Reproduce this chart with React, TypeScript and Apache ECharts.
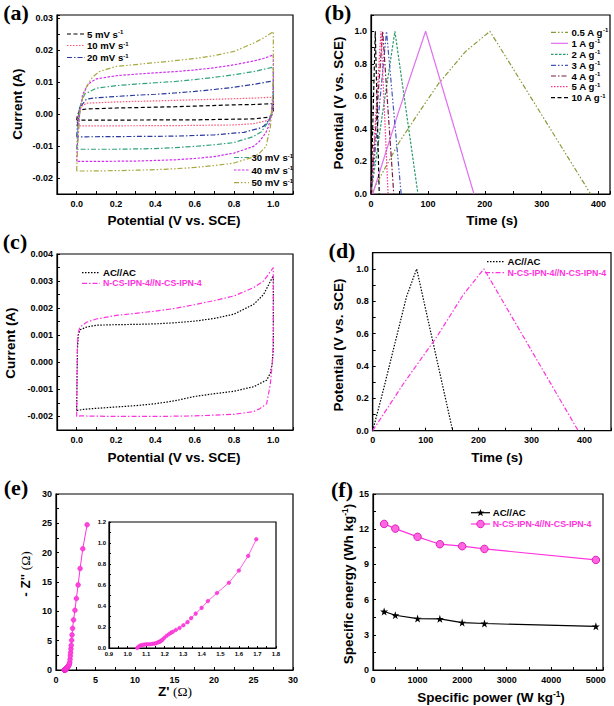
import React, { useEffect, useRef } from 'react';
import * as echarts from 'echarts';

// ---------- (a) three-electrode CV loops [V, A] ----------
const cv5 = [[0,-0.0019],[0.005,0.0],[0.02,0.0013],[0.05,0.0016],[0.2,0.0019],[0.5,0.0023],[0.8,0.0029],[0.9,0.003],[1.0,0.0033],[1.0,0.001],[0.99,-0.0005],[0.97,-0.001],[0.9,-0.0015],[0.6,-0.0018],[0.05,-0.0019],[0,-0.0019]];
const cv10 = [[0,-0.0037],[0.005,-0.001],[0.015,0.002],[0.05,0.0034],[0.2,0.0038],[0.5,0.0043],[0.8,0.0048],[0.9,0.005],[1.0,0.0053],[1.0,0.002],[0.99,-0.001],[0.97,-0.002],[0.9,-0.003],[0.8,-0.0034],[0.5,-0.0036],[0.05,-0.0037],[0,-0.0037]];
const cv20 = [[0,-0.0071],[0.005,-0.003],[0.015,0.002],[0.05,0.0047],[0.1,0.0051],[0.2,0.0055],[0.3,0.0059],[0.4,0.0062],[0.5,0.0066],[0.6,0.0071],[0.7,0.0077],[0.8,0.0084],[0.9,0.0093],[1.0,0.0104],[1.0,0.004],[0.99,0.0],[0.98,-0.0018],[0.95,-0.0038],[0.93,-0.0044],[0.85,-0.0057],[0.7,-0.0065],[0.5,-0.0069],[0.3,-0.007],[0.05,-0.0071],[0,-0.0071]];
const cv30 = [[0,-0.011],[0.005,-0.005],[0.015,0.002],[0.04,0.0062],[0.1,0.0081],[0.2,0.0089],[0.3,0.0094],[0.4,0.0098],[0.5,0.0102],[0.6,0.0108],[0.7,0.0115],[0.8,0.0123],[0.9,0.0133],[1.0,0.0147],[1.0,0.006],[0.99,0.0],[0.97,-0.0028],[0.94,-0.0055],[0.9,-0.007],[0.8,-0.0089],[0.7,-0.0096],[0.6,-0.0101],[0.5,-0.0105],[0.4,-0.0108],[0.2,-0.011],[0.05,-0.011],[0,-0.011]];
const cv40 = [[0,-0.0148],[0.005,-0.008],[0.015,0.0],[0.03,0.006],[0.06,0.0095],[0.1,0.011],[0.2,0.012],[0.3,0.0125],[0.4,0.0129],[0.5,0.0133],[0.6,0.0138],[0.7,0.0145],[0.8,0.0154],[0.9,0.0166],[0.95,0.0174],[1.0,0.0185],[1.0,0.008],[0.99,0.0],[0.975,-0.004],[0.96,-0.006],[0.93,-0.0085],[0.9,-0.0101],[0.8,-0.0122],[0.7,-0.0133],[0.6,-0.0139],[0.5,-0.0143],[0.4,-0.0145],[0.3,-0.0147],[0.1,-0.0148],[0,-0.0148]];
const cv50 = [[0,-0.0178],[0.005,-0.01],[0.015,0.0],[0.03,0.005],[0.05,0.0086],[0.08,0.0115],[0.115,0.0133],[0.2,0.0149],[0.3,0.0155],[0.4,0.0161],[0.5,0.0167],[0.6,0.0174],[0.7,0.0183],[0.8,0.0196],[0.9,0.0222],[0.95,0.0238],[1.0,0.0258],[1.0,0.012],[0.995,0.004],[0.985,-0.004],[0.963,-0.0101],[0.93,-0.0122],[0.9,-0.0134],[0.8,-0.0153],[0.7,-0.0161],[0.6,-0.0167],[0.5,-0.0171],[0.4,-0.0174],[0.2,-0.0177],[0.05,-0.0178],[0,-0.0178]];
const aNames = ['5 mV s', '10 mV s', '20 mV s', '30 mV s', '40 mV s', '50 mV s'];

// ---------- (b) GCD curves [s, V] ----------
const gcd05 = [[0,0],[14,0.09],[49,0.315],[84,0.5],[119,0.68],[166,0.875],[209,1.0],[386,0]];
const gcd1 = [[3,0],[48,0.5],[96,1.0],[181,0]];
const gcd2 = [[0,0],[20,0.49],[42,1.0],[82.5,0]];
const gcd3 = [[0,0],[27.3,1.0],[53,0]];
const gcd4 = [[0,0],[20.5,1.0],[40,0]];
const gcd5 = [[0,0],[17.5,1.0],[30,0]];
const gcd10 = [[0,0],[7.5,1.0],[14.5,0]];
const bNames = ['0.5 A g', '1 A g', '2 A g', '3 A g', '4 A g', '5 A g', '10 A g'];

// ---------- (c) two-electrode CV [V, A] ----------
const cvAC = [[0,-0.00178],[0.002,-0.0005],[0.004,0.0005],[0.008,0.001],[0.017,0.0012],[0.05,0.0013],[0.1,0.00137],[0.2,0.00139],[0.3,0.0014],[0.4,0.00142],[0.5,0.00146],[0.6,0.00152],[0.7,0.00162],[0.8,0.00178],[0.9,0.00214],[0.95,0.0025],[1.0,0.0032],[1.0,0.0005],[0.995,0.0],[0.985,-0.0004],[0.966,-0.00066],[0.9,-0.0009],[0.8,-0.00107],[0.7,-0.00116],[0.6,-0.00126],[0.5,-0.00142],[0.4,-0.00153],[0.3,-0.0016],[0.2,-0.00165],[0.1,-0.0017],[0.034,-0.00174],[0,-0.00178]];
const cvNCS = [[0,-0.002],[0.002,-0.0005],[0.004,0.0007],[0.008,0.0011],[0.017,0.0013],[0.05,0.00148],[0.1,0.0016],[0.2,0.00173],[0.3,0.00181],[0.4,0.00189],[0.5,0.00199],[0.6,0.00213],[0.7,0.00228],[0.8,0.00245],[0.9,0.00276],[0.95,0.003],[1.0,0.0035],[1.0,0.001],[0.995,0.0],[0.985,-0.0008],[0.966,-0.00153],[0.93,-0.00172],[0.9,-0.00182],[0.8,-0.00192],[0.6,-0.00198],[0.4,-0.002],[0.2,-0.002],[0.02,-0.00198],[0,-0.002]];

// ---------- (d) two-electrode GCD [s, V] ----------
const gcdAC = [[0,0],[20,0.25],[45,0.58],[64,0.83],[83,1.0],[151,0]];
const gcdNCS = [[0,0],[58,0.29],[121,0.58],[171,0.84],[210,1.0],[388,0]];

// ---------- (e) Nyquist ----------
const zRe = [1.052,1.057,1.065,1.072,1.081,1.09,1.101,1.112,1.122,1.133,1.144,1.153,1.162,1.169,1.175,1.182,1.188,1.198,1.211,1.224,1.235,1.244,1.26,1.28,1.301,1.323,1.343,1.367,1.399,1.433,1.482,1.546,1.6,1.65,1.694,1.74,1.78,1.82,1.85,1.89,1.93,1.98,2.03,2.1,2.22,2.4,2.58,2.8,3.05,3.39,3.94];
const zIm = [0,0.01,0.019,0.026,0.029,0.032,0.036,0.036,0.036,0.039,0.042,0.045,0.052,0.058,0.061,0.071,0.078,0.097,0.117,0.133,0.146,0.155,0.172,0.191,0.217,0.246,0.285,0.327,0.382,0.447,0.524,0.621,0.738,0.877,1.036,1.3,1.8,2.4,2.96,3.6,4.2,5.07,5.98,7.1,8.54,10.19,12.18,14.5,17.3,20.66,24.76];

// ---------- (f) Ragone ----------
const fPower = [250, 500, 1000, 1500, 2000, 2500, 5000];
const fEnergyAC = [4.98, 4.67, 4.38, 4.36, 4.04, 3.96, 3.72];
const fEnergyNCS = [12.45, 12.05, 11.35, 10.72, 10.55, 10.32, 9.38];

const F = 'Liberation Sans';
const SERIF = 'Liberation Serif';
const MAG = '#ff33dd';
const STAR = 'path://M50,0L61.8,35.3L98.9,35.3L68.9,57.1L80.3,92.4L50,70.6L19.7,92.4L31.1,57.1L1.1,35.3L38.2,35.3Z';

const DASH = [4, 2.5];
const DOT = [1.5, 1.5];
const SDASH = [2.5, 1.5];
const DD = [5, 2, 1.5, 2];
const DDD = [5, 2, 1.5, 2, 1.5, 2];

function fmt(base: number, step: number, dec: number) {
  return (v: number) => {
    const k = Math.round(v / base);
    if (Math.abs(v - k * base) > base * 1e-6) return '';
    if (k % step !== 0) return '';
    const r = (k * base).toFixed(dec);
    return r === '-0.00' || r === '-0.000' || r === '-0.0' ? r.slice(1) : r;
  };
}

function axis(gridIndex: number, min: number, max: number, interval: number, step: number, dec: number, fs = 9, margin = 4, tick = 3) {
  return {
    type: 'value', gridIndex, min, max, interval,
    axisLine: { show: true, onZero: false, lineStyle: { color: '#000', width: 1.2 } },
    axisTick: { show: true, inside: true, length: tick, lineStyle: { color: '#000', width: 1 } },
    axisLabel: { formatter: fmt(interval, step, dec), fontSize: fs, fontWeight: 'bold', color: '#000', fontFamily: F, margin },
    splitLine: { show: false },
  };
}

function line(name: string, data: number[][], xi: number, color: string, dash: any, width = 1.2) {
  return {
    type: 'line', name, data, xAxisIndex: xi, yAxisIndex: xi, showSymbol: false, symbol: 'none',
    lineStyle: { color, width, type: dash }, itemStyle: { color }, silent: true, z: 3,
  };
}

function rich(fs: number, color: string) {
  return {
    n: { fontSize: fs, fontWeight: 'bold', fontFamily: F, fill: color, color },
    s: { fontSize: fs * 0.62, fontWeight: 'bold', fontFamily: F, fill: color, color, verticalAlign: 'top' },
    o: { fontSize: fs, fontWeight: 'normal', fontFamily: SERIF, fill: color, color },
  };
}

function txt(x: number, y: number, text: string, fs: number, color = '#000', align = 'left', rot = 0) {
  return {
    type: 'text', x, y, rotation: rot, silent: true, z: 10,
    style: {
      text, rich: rich(fs, color), fontSize: fs, fontWeight: 'bold', fontFamily: F, fill: color,
      textAlign: align, align, textVerticalAlign: 'middle', verticalAlign: 'middle',
    },
  };
}

function letter(x: number, y: number, t: string) {
  return {
    type: 'text', x, y, silent: true, z: 10,
    style: { text: t, fontSize: 22, fontWeight: 'bold', fontFamily: SERIF, fill: '#000', textAlign: 'center', align: 'center', textVerticalAlign: 'middle', verticalAlign: 'middle' },
  };
}

function legLine(x1: number, x2: number, y: number, color: string, dash: any) {
  return { type: 'line', silent: true, z: 10, shape: { x1, y1: y, x2, y2: y }, style: { stroke: color, lineWidth: 1.2, lineDash: dash } };
}

function starPts(cx: number, cy: number, r: number) {
  const pts: number[][] = [];
  for (let i = 0; i < 10; i++) {
    const rr = i % 2 === 0 ? r : r * 0.4;
    const a = -Math.PI / 2 + (i * Math.PI) / 5;
    pts.push([cx + rr * Math.cos(a), cy + rr * Math.sin(a)]);
  }
  return pts;
}

const sup = (main: string, s = '-1', tail = '') => `{n|${main}}{s|${s}}` + (tail ? `{n|${tail}}` : '');

export default function App() {
  const ref = useRef<HTMLDivElement>(null);
  useEffect(() => {
    if (!ref.current) return;
    const chart = echarts.init(ref.current, undefined, { renderer: 'svg' });
    const grid = (left: number, top: number, width: number, height: number) => ({
      left, top, width, height, show: true, borderColor: '#000', borderWidth: 1.2, backgroundColor: '#fff', containLabel: false,
    });
    const grids = [
      grid(57, 15, 236, 179),
      grid(371, 15, 239, 179),
      grid(57, 254, 236, 176),
      grid(372.7, 252.7, 239.6, 178),
      grid(56, 494, 237, 176),
      grid(109, 522, 167, 126),
      grid(373, 494, 230, 176),
    ];
    const xAxes = [
      axis(0, -0.1, 1.1, 0.1, 2, 1, 9, 5),
      axis(1, 0, 420, 50, 2, 0, 9, 5),
      axis(2, -0.1, 1.1, 0.1, 2, 1, 9, 5),
      axis(3, 0, 450, 50, 2, 0, 9, 5),
      axis(4, 0, 30, 2.5, 2, 0, 9, 5),
      axis(5, 0.9, 1.8, 0.05, 2, 1, 6, 3, 2),
      axis(6, 0, 5160, 500, 2, 0, 9, 5),
    ];
    const yAxes = [
      axis(0, -0.025, 0.031, 0.005, 2, 2),
      axis(1, 0, 1.1, 0.1, 2, 1),
      axis(2, -0.0025, 0.004, 0.0005, 2, 3),
      axis(3, 0, 1.1, 0.1, 2, 1),
      axis(4, 0, 30, 2.5, 2, 0),
      axis(5, 0, 1.2, 0.1, 2, 1, 6, 3, 2),
      axis(6, 0, 15, 1.5, 2, 0),
    ];
    const zPairs = zRe.map((x, i) => [x, zIm[i]]);
    const inset = zPairs.filter((p) => p[0] <= 1.7);
    const series: any[] = [
      line(aNames[0], cv5, 0, '#000000', DASH),
      line(aNames[1], cv10, 0, '#ff5577', DOT),
      line(aNames[2], cv20, 0, '#2a3aa0', DD),
      line(aNames[3], cv30, 0, '#2fa37a', DD),
      line(aNames[4], cv40, 0, '#d030f0', SDASH),
      line(aNames[5], cv50, 0, '#a8a840', DDD),
      line(bNames[0], gcd05, 1, '#8a9a3a', DDD),
      line(bNames[1], gcd1, 1, '#e070f0', 'solid'),
      line(bNames[2], gcd2, 1, '#2a9a6a', SDASH),
      line(bNames[3], gcd3, 1, '#4455bb', DDD),
      line(bNames[4], gcd4, 1, '#7a1a40', DD),
      line(bNames[5], gcd5, 1, '#ff3388', DOT),
      line(bNames[6], gcd10, 1, '#000000', DASH),
      line('AC//AC', cvAC, 2, '#000000', DOT),
      line('N-CS-IPN-4//N-CS-IPN-4', cvNCS, 2, MAG, DD),
      line('AC//AC', gcdAC, 3, '#000000', DOT),
      line('N-CS-IPN-4//N-CS-IPN-4', gcdNCS, 3, MAG, DD),
      {
        type: 'line', data: zPairs, xAxisIndex: 4, yAxisIndex: 4, symbol: 'circle', symbolSize: 4.8, silent: true,
        lineStyle: { color: MAG, width: 1 }, itemStyle: { color: '#ff44dd', borderColor: '#ee22cc', borderWidth: 0.5 },
      },
      {
        type: 'line', data: inset, xAxisIndex: 5, yAxisIndex: 5, symbol: 'circle', symbolSize: 3.6, silent: true, z: 5,
        lineStyle: { color: MAG, width: 0.8 }, itemStyle: { color: '#ff44dd', borderColor: '#ee22cc', borderWidth: 0.5 },
      },
      {
        type: 'line', name: 'AC//AC', data: fPower.map((x, i) => [x, fEnergyAC[i]]), xAxisIndex: 6, yAxisIndex: 6,
        symbol: STAR, symbolSize: 8, silent: true, lineStyle: { color: '#000', width: 1.1 }, itemStyle: { color: '#000' },
      },
      {
        type: 'line', name: 'N-CS-IPN-4//N-CS-IPN-4', data: fPower.map((x, i) => [x, fEnergyNCS[i]]), xAxisIndex: 6, yAxisIndex: 6,
        symbol: 'circle', symbolSize: 7.5, silent: true, lineStyle: { color: MAG, width: 1.2 },
        itemStyle: { color: '#ff66e0', borderColor: '#e020c0', borderWidth: 1 },
      },
    ];

    const LF = 9.6;
    const NF = 8.8;
    const TF = 13.5;
    const graphic: any[] = [
      letter(16, 12, '(a)'), letter(338, 12, '(b)'), letter(15, 241, '(c)'),
      letter(342, 250, '(d)'), letter(16, 487, '(e)'), letter(342, 489, '(f)'),
      // axis titles
      txt(174, 220, '{n|Potential (V vs. SCE)}', TF, '#000', 'center'),
      txt(17, 104, '{n|Current (A)}', TF, '#000', 'center', Math.PI / 2),
      txt(492, 220, '{n|Time (s)}', TF, '#000', 'center'),
      txt(338, 103, '{n|Potential (V vs. SCE)}', TF, '#000', 'center', Math.PI / 2),
      txt(174, 457, '{n|Potential (V vs. SCE)}', TF, '#000', 'center'),
      txt(10, 343, '{n|Current (A)}', TF, '#000', 'center', Math.PI / 2),
      txt(497, 457, '{n|Time (s)}', TF, '#000', 'center'),
      txt(338, 345, '{n|Potential (V vs. SCE)}', TF, '#000', 'center', Math.PI / 2),
      txt(175, 691, "{n|Z' }{o|(Ω)}", TF, '#000', 'center'),
      txt(25, 574, "{n|- Z'' }{o|(Ω)}", TF, '#000', 'center', Math.PI / 2),
      txt(491, 697, sup('Specific power (W kg', '-1', ')'), TF, '#000', 'center'),
      txt(348, 584, sup('Specific energy (Wh kg', '-1', ')'), TF, '#000', 'center', Math.PI / 2),
      // legend (a)
      legLine(67, 85, 34, '#000', DASH), txt(87, 34, sup(aNames[0]), LF),
      legLine(67, 85, 45.5, '#ff5577', DOT), txt(87, 45.5, sup(aNames[1]), LF),
      legLine(67, 85, 57.5, '#2a3aa0', DD), txt(87, 57.5, sup(aNames[2]), LF),
      legLine(234, 249, 157.5, '#2fa37a', DD), txt(251.5, 157.5, sup(aNames[3]), LF),
      legLine(234, 249, 170, '#d030f0', SDASH), txt(251.5, 170, sup(aNames[4]), LF),
      legLine(234, 249, 182.7, '#a8a840', DDD), txt(251.5, 182.7, sup(aNames[5]), LF),
      // legend (b)
      legLine(551, 568, 32.3, '#8a9a3a', DDD), txt(571.5, 32.3, sup(bNames[0]), LF),
      legLine(551, 568, 43.3, '#e070f0', null), txt(571.5, 43.3, sup(bNames[1]), LF),
      legLine(551, 568, 54.3, '#2a9a6a', SDASH), txt(571.5, 54.3, sup(bNames[2]), LF),
      legLine(551, 568, 65.3, '#4455bb', DDD), txt(571.5, 65.3, sup(bNames[3]), LF),
      legLine(551, 568, 76, '#7a1a40', DD), txt(571.5, 76, sup(bNames[4]), LF),
      legLine(551, 568, 86.7, '#ff3388', DOT), txt(571.5, 86.7, sup(bNames[5]), LF),
      legLine(551, 568, 97.7, '#000', DASH), txt(571.5, 97.7, sup(bNames[6]), LF),
      // legend (c)
      legLine(82, 100, 272.7, '#000', DOT), txt(103, 272.7, '{n|AC//AC}', LF),
      legLine(82, 100, 283.3, MAG, DD), txt(103, 283.3, '{n|N-CS-IPN-4//N-CS-IPN-4}', NF, MAG),
      // legend (d)
      legLine(487, 505, 261.7, '#000', DOT), txt(507.5, 261.7, '{n|AC//AC}', LF),
      legLine(485, 505, 272.7, MAG, DD), txt(507.5, 272.7, '{n|N-CS-IPN-4//N-CS-IPN-4}', NF, MAG),
      // legend (f)
      legLine(471, 490, 512.7, '#000', null),
      { type: 'polygon', silent: true, z: 11, shape: { points: starPts(480.5, 512.9, 4) }, style: { fill: '#000' } },
      txt(492.7, 512.7, '{n|AC//AC}', LF),
      { type: 'line', silent: true, z: 10, shape: { x1: 471, y1: 524, x2: 490, y2: 524 }, style: { stroke: MAG, lineWidth: 1.2 } },
      { type: 'circle', silent: true, z: 11, shape: { cx: 480.5, cy: 524, r: 3.7 }, style: { fill: '#ff66e0', stroke: '#e020c0', lineWidth: 1 } },
      txt(492.7, 524, '{n|N-CS-IPN-4//N-CS-IPN-4}', NF, MAG),
    ];

    chart.setOption({
      animation: false,
      backgroundColor: '#fff',
      grid: grids,
      xAxis: xAxes,
      yAxis: yAxes,
      series,
      graphic,
    });
    return () => chart.dispose();
  }, []);
  return <div ref={ref} style={{ position: 'absolute', left: 0, top: 0, width: 614, height: 706 }} />;
}
